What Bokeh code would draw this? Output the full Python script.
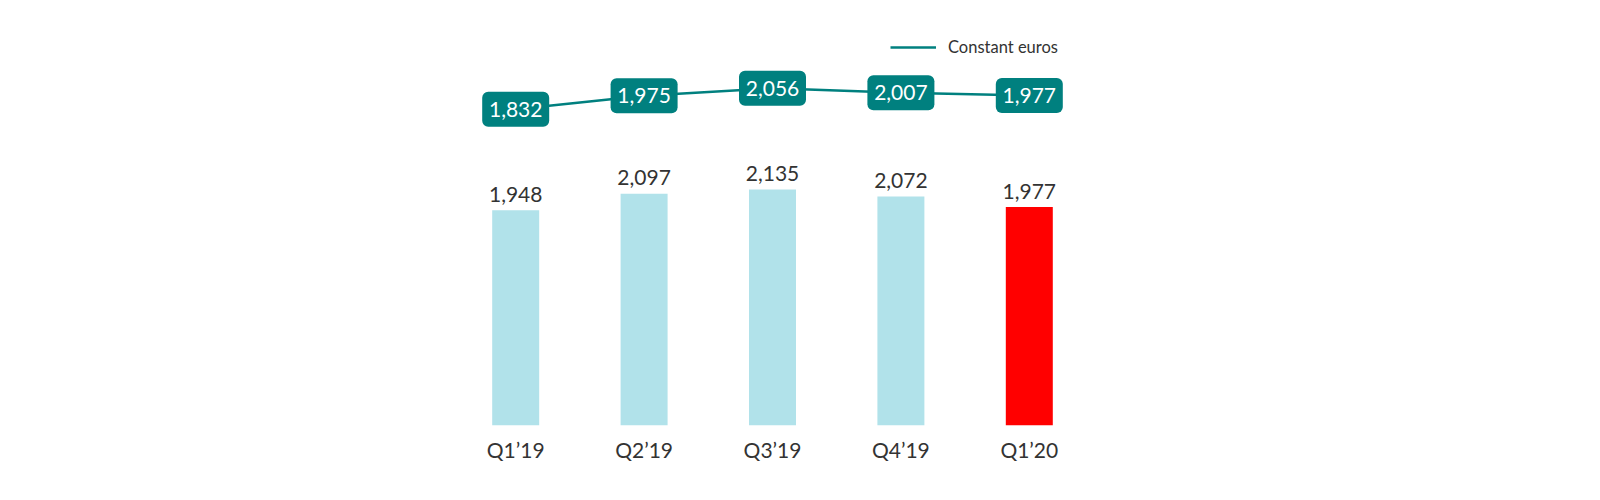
from bokeh.plotting import figure
from bokeh.models import ColumnDataSource, Range1d, FactorRange, Legend, LegendItem
from bokeh.core.properties import value
from bokeh.embed import file_html
from bokeh.resources import INLINE

# ---- data ----
quarters = ["Q1’19", "Q2’19", "Q3’19", "Q4’19", "Q1’20"]
current_euros = [1948, 2097, 2135, 2072, 1977]
constant_euros = [1832, 1975, 2056, 2007, 1977]
bar_colors = ["#b1e2ea", "#b1e2ea", "#b1e2ea", "#b1e2ea", "#ff0000"]

FONT = "Lato"
TEAL = "#00807f"
DARK = "#333333"

src = ColumnDataSource(dict(
    q=quarters,
    cur=current_euros,
    cur_lbl=[f"{v:,}" for v in current_euros],
    const=constant_euros,
    const_lbl=[f"{v:,}" for v in constant_euros],
    color=bar_colors,
))

p = figure(
    x_range=FactorRange(*quarters),
    y_range=Range1d(0, 3683),
    frame_width=642, frame_height=407,
    min_border_left=451, min_border_right=491,
    min_border_top=18, min_border_bottom=59,
    y_axis_location=None,
    output_backend="svg", toolbar_location=None,
    background_fill_color="white", border_fill_color="white",
    outline_line_color=None,
)
p.extra_y_ranges = {"const": Range1d(-1536, 2798)}

p.xgrid.visible = False
p.ygrid.visible = False

# bars
p.vbar(x="q", top="cur", width=0.366, fill_color="color", line_color=None, source=src)
p.text(x="q", y="cur", text="cur_lbl", source=src,
       text_align="center", text_baseline="alphabetic", y_offset=-16,
       text_font=value(FONT), text_font_size="21px", text_color=DARK)

# constant euros line
line_r = p.line(x="q", y="const", source=src, y_range_name="const",
                line_color=TEAL, line_width=2.5)
p.rect(x="q", y="const", width=67, height=35, width_units="screen", height_units="screen",
       source=src, y_range_name="const", fill_color=TEAL, line_color=None, border_radius=6)
p.text(x="q", y="const", text="const_lbl", source=src, y_range_name="const",
       text_align="center", text_baseline="middle",
       text_font=value(FONT), text_font_size="21px", text_color="white")

# x axis
ax = p.xaxis[0]
ax.axis_line_color = None
ax.major_tick_line_color = None
ax.minor_tick_line_color = None
ax.major_tick_out = 0
ax.major_tick_in = 0
ax.major_label_standoff = 11
ax.major_label_text_font = FONT
ax.major_label_text_font_size = "21px"
ax.major_label_text_color = DARK

legend = Legend(
    items=[LegendItem(label="Constant euros", renderers=[line_r])],
    location=(439, 368),
    glyph_width=46, glyph_height=20, label_standoff=12,
    padding=0, margin=0, border_line_color=None, background_fill_alpha=0,
    label_text_font=FONT, label_text_font_size="16.5px", label_text_color=DARK,
)
p.add_layout(legend)

open("out.html", "w").write(file_html(p, INLINE))
